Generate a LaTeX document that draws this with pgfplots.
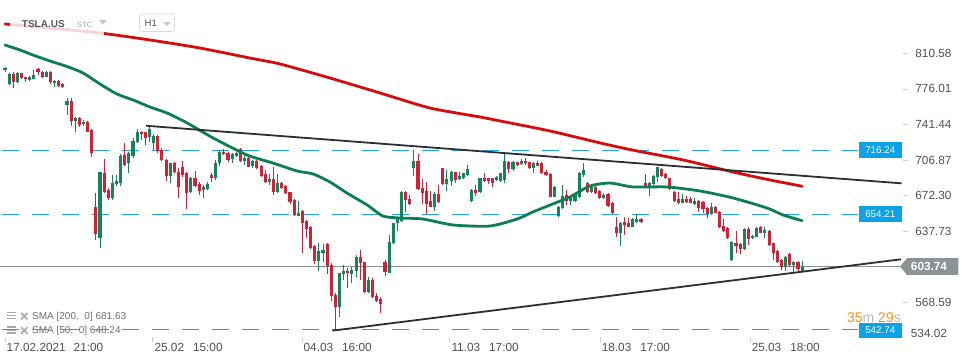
\documentclass[border=0pt]{standalone}
\usepackage{pgfplots}
\usepackage{pgfplotstable}
\pgfplotsset{compat=1.18}
\usepackage{fontspec}
\setmainfont{Liberation Sans}
\definecolor{cup}{RGB}{22,132,88}
\definecolor{cdn}{RGB}{212,32,52}
\definecolor{smared}{RGB}{214,12,12}
\definecolor{smagreen}{RGB}{12,126,82}
\definecolor{trend}{RGB}{42,47,53}
\definecolor{hblue}{RGB}{38,163,228}
\definecolor{boxblue}{RGB}{12,162,232}
\definecolor{pricegray}{RGB}{139,147,151}
\definecolor{txt}{RGB}{80,80,80}
\definecolor{orng}{RGB}{247,148,29}
\definecolor{lgray}{RGB}{168,168,168}

\pgfplotstableread{
i o h l c
1 794.4 797.6 792.8 796.6
2 780.5 791.1 779.5 790.5
4 783.1 792.1 782.1 791.1
7 784.7 788.6 784.0 787.3
8 785.7 794.4 785.3 789.5
11 787.9 793.4 787.3 792.8
13 781.4 784.7 778.2 783.7
16 760.7 767.5 750.7 764.0
18 745.2 749.1 734.5 747.5
20 741.7 745.9 740.4 744.3
24 631.1 695.7 621.4 695.1
27 670.5 692.5 668.3 685.1
28 683.8 692.5 682.2 686.4
29 684.4 712.6 682.2 710.9
31 703.8 715.1 694.1 713.5
32 710.9 728.1 709.3 725.5
33 724.8 737.1 723.2 734.5
36 729.1 739.4 724.8 736.8
37 723.9 732.3 716.8 730.3
41 691.9 704.5 684.4 703.8
46 676.3 690.9 674.7 689.3
49 678.0 682.8 670.5 680.5
50 678.6 686.0 678.0 683.8
52 689.3 707.1 687.7 704.5
53 703.8 716.8 701.5 715.1
56 707.7 713.5 704.5 712.9
57 711.3 715.1 710.3 714.2
59 706.4 713.5 702.2 708.7
61 701.2 707.1 699.0 706.1
65 686.0 693.5 682.8 688.6
67 676.3 693.5 675.4 684.4
72 653.0 667.3 652.7 655.3
77 609.4 626.2 599.7 618.8
78 617.2 625.6 608.4 619.7
82 564.8 597.8 555.1 597.1
83 596.1 605.2 590.6 599.4
85 596.4 603.6 587.4 600.3
86 599.7 614.9 593.9 612.6
89 579.3 593.9 578.3 590.6
94 597.8 634.3 597.1 627.8
95 626.9 646.3 625.6 645.6
96 645.6 652.1 638.5 649.5
97 647.9 677.0 647.2 676.3
100 699.6 716.8 691.5 706.1
105 661.8 676.3 657.9 674.1
108 683.8 697.4 677.3 688.3
109 687.0 696.7 681.8 695.7
111 688.3 695.7 687.7 691.5
112 689.9 694.8 688.9 694.1
113 692.5 702.2 691.9 698.0
114 667.6 678.6 666.6 677.9
116 676.3 689.9 675.4 689.3
120 687.7 691.9 687.0 690.9
121 687.0 694.8 686.0 694.1
122 687.7 712.6 684.4 706.1
124 698.0 706.1 696.7 705.4
126 702.9 707.7 702.2 706.1
129 699.0 705.4 694.8 703.8
134 671.5 681.8 670.8 681.2
135 652.7 662.4 651.4 661.1
136 660.2 682.8 659.2 672.1
138 667.6 673.1 663.4 669.9
139 667.6 674.7 666.6 673.1
140 671.5 695.7 669.9 694.8
141 692.5 703.8 690.9 697.4
143 676.3 682.8 674.7 681.2
146 669.9 674.7 668.9 673.1
150 636.6 647.2 623.6 646.3
153 642.4 650.5 641.7 649.5
154 647.2 654.7 646.3 649.5
157 681.8 686.0 672.5 684.4
158 683.8 692.5 682.8 691.5
159 690.2 700.6 686.0 699.9
165 665.7 673.7 665.0 668.9
168 664.4 669.9 663.4 667.3
172 654.3 665.0 653.7 661.1
177 610.0 628.8 609.4 627.8
180 620.4 640.8 619.7 639.8
182 631.1 634.3 630.1 633.6
183 632.7 642.4 632.0 640.8
185 636.6 641.7 631.1 639.2
190 603.6 613.9 599.7 613.3
192 605.2 609.1 597.7 608.4
194 599.7 609.1 598.7 603.7
}\upt

\pgfplotstableread{
i o h l c
3 790.5 792.8 776.6 783.1
5 791.1 791.8 785.3 786.3
6 787.3 787.9 782.7 785.3
9 795.4 796.0 789.2 792.8
10 792.8 793.7 786.3 787.9
12 792.8 793.4 780.8 782.4
14 783.7 784.7 778.2 779.2
15 780.8 782.1 776.9 777.6
17 764.0 766.9 740.4 745.2
19 747.5 748.5 739.4 741.0
21 744.3 745.2 733.9 734.5
22 736.2 736.8 710.3 714.2
23 661.8 674.7 629.4 634.9
25 694.1 708.0 675.4 676.3
26 677.9 679.6 668.3 670.5
30 711.9 723.2 701.2 702.2
34 734.2 734.9 726.5 732.3
35 733.9 734.5 721.6 728.1
38 730.3 731.3 714.2 715.8
39 716.8 718.4 706.4 707.1
40 707.1 708.4 687.0 691.9
42 703.8 704.8 694.1 695.1
43 695.1 699.0 670.5 681.2
44 699.9 706.1 690.9 692.5
45 694.1 695.7 659.5 675.4
47 689.3 696.4 681.2 681.8
48 683.8 686.0 673.1 677.3
51 692.5 694.1 686.0 689.3
54 715.1 717.4 711.6 712.6
55 714.2 715.1 705.4 707.1
58 717.4 718.4 705.4 706.4
60 708.7 710.3 699.9 700.6
62 706.1 707.1 698.3 699.6
63 701.2 702.2 690.2 691.5
64 693.5 697.4 685.1 686.0
66 688.6 700.6 673.1 676.3
68 684.4 686.0 678.6 680.2
69 681.8 682.8 674.1 674.7
70 675.7 676.3 664.4 666.6
71 668.3 668.9 653.0 653.7
73 657.6 658.6 617.2 646.3
74 647.9 648.8 631.0 640.1
75 642.4 643.0 620.4 622.0
76 623.6 624.6 606.2 609.4
79 625.6 626.2 596.4 604.5
80 605.2 606.8 570.3 575.1
81 576.1 577.7 542.7 564.8
84 599.7 602.0 582.5 597.1
87 613.3 619.7 590.6 606.8
88 607.8 608.4 578.3 579.3
90 590.6 592.2 572.8 573.8
91 575.1 578.3 569.6 570.6
92 572.2 574.5 558.3 567.0
93 607.8 610.0 594.5 598.7
98 675.7 677.0 656.9 668.3
99 669.2 673.1 663.4 664.4
101 706.1 712.9 677.9 678.6
102 679.6 688.3 664.4 675.4
103 677.0 686.0 654.7 664.4
104 667.3 677.3 661.1 661.8
106 674.1 682.8 665.7 666.6
107 699.0 699.6 682.8 683.4
110 695.1 695.7 685.1 687.7
115 677.9 682.8 672.1 675.4
117 689.3 694.1 685.4 687.0
118 689.3 689.9 683.4 687.0
119 689.3 689.9 681.2 684.4
123 705.4 706.1 694.8 698.0
125 704.8 705.4 701.6 702.2
127 706.1 708.7 702.2 703.8
128 704.8 705.4 698.0 699.0
130 704.5 706.1 701.2 701.6
131 704.5 705.4 693.5 694.1
132 695.1 697.4 691.5 692.2
133 693.2 694.1 670.8 671.5
137 673.1 677.9 663.4 667.6
142 684.4 686.0 675.4 676.3
144 680.5 681.8 674.1 674.7
145 677.0 677.9 669.2 669.9
147 673.7 674.7 661.8 662.4
148 665.7 666.6 654.7 655.3
149 641.7 652.1 632.0 636.6
151 646.6 652.1 634.3 644.0
152 646.3 650.5 641.7 642.4
155 649.5 650.5 646.3 647.2
156 684.4 693.5 680.5 681.8
160 698.0 699.0 690.9 691.9
161 693.5 694.8 688.3 689.3
162 689.3 689.9 678.0 678.6
163 676.3 677.3 666.6 667.6
164 668.9 676.3 664.4 665.0
166 668.9 672.5 665.0 666.0
167 668.9 671.5 665.0 665.7
169 667.3 668.3 656.9 660.2
170 666.6 667.6 656.0 659.2
171 660.2 661.1 650.5 654.3
173 661.1 662.4 655.3 656.0
174 656.9 657.9 640.8 642.4
175 643.3 649.5 637.5 638.5
176 640.8 641.7 630.1 631.1
178 626.9 638.2 616.5 624.0
179 625.6 626.9 615.9 620.4
181 640.1 641.7 624.6 630.1
184 641.7 643.0 635.9 636.6
186 638.5 639.2 623.6 624.6
187 626.2 626.9 610.0 617.2
188 618.8 619.7 607.4 608.4
189 610.0 610.7 600.3 603.6
191 615.5 616.5 603.6 605.2
193 608.4 609.1 599.7 601.0
}\dnt

\begin{document}
\begin{tikzpicture}
\useasboundingbox (0,-26.5pt) rectangle (970pt,337.5pt);
% indicator legend (bottom left)
\begin{scope}[x=1pt,y=1pt]
\foreach \yy in {25,22,19} {\fill[lgray] (7,\yy-0.75) rectangle (16,\yy+0.75);}
\draw[lgray, line width=1.5pt] (21,24.5) -- (27.5,18) (21,18) -- (27.5,24.5);
\node[anchor=west, inner sep=0pt, text={rgb,255:red,110;green,110;blue,110}, font=\fontsize{10}{11}\selectfont] at (32,20.8) {SMA [200,\ \ 0] 681.63};
\foreach \yy in {10.7,7.7,4.7} {\fill[lgray] (7,\yy-0.75) rectangle (16,\yy+0.75);}
\draw[lgray, line width=1.5pt] (21,10.2) -- (27.5,3.7) (21,3.7) -- (27.5,10.2);
\node[anchor=west, inner sep=0pt, text={rgb,255:red,110;green,110;blue,110}, font=\fontsize{10}{11}\selectfont] at (32,6.3) {SMA [50,\ \ 0] 648.24};
\end{scope}
\begin{axis}[
  at={(0pt,0pt)}, anchor=south west,
  scale only axis, width=903pt, height=337.5pt,
  xmin=-0.211, xmax=218.43, ymin=534.85, ymax=862.29,
  clip=false,
  axis x line*=bottom, axis y line*=right,
  axis line style={draw=none},
  tick align=outside, major tick length=4.5pt,
  tick style={draw=black!18, line width=0.8pt},
  xtick={1,36.8,72.9,108.7,145.1,181.4},
  xticklabels={17.02.2021\hspace{8pt}21:00,25.02\hspace{9pt}15:00,04.03\hspace{9pt}16:00,11.03\hspace{9pt}17:00,18.03\hspace{9pt}17:00,25.03\hspace{9pt}18:00},
  xticklabel style={anchor=west, inner sep=0pt, xshift=1.5pt, yshift=-5pt, font=\fontsize{11.8}{12}\selectfont, text=txt},
  ytick={810.58,776.01,741.44,706.87,672.30,637.73,568.59},
  yticklabels={810.58,776.01,741.44,706.87,672.30,637.73,568.59},
  yticklabel style={anchor=west, inner sep=0pt, xshift=7.7pt, font=\fontsize{11.8}{12}\selectfont, text=txt},
  /pgf/number format/assume math mode=true,
]
% current price line
\addplot[draw={rgb,255:red,140;green,140;blue,140}, line width=0.9pt, forget plot] coordinates {(-0.211,603.74) (217.9,603.74)};
% horizontal levels
\addplot[hblue, line width=1.4pt, dash pattern=on 16.5pt off 13.5pt, forget plot] coordinates {(0.3,716.24) (207.5,716.24)};
\addplot[hblue, line width=1.4pt, dash pattern=on 16.5pt off 13.5pt, forget plot] coordinates {(0.3,654.21) (207.5,654.21)};
\addplot[hblue, line width=1.4pt, dash pattern=on 16.5pt off 13.5pt, forget plot] coordinates {(0.3,542.74) (207.5,542.74)};
% candles: wicks
\addplot[draw=none, mark=none, forget plot, error bars/.cd, y dir=both, y explicit, error mark=none, error bar style={draw=cup, line width=0.9pt}]
  table[x=i, y expr={(\thisrow{h}+\thisrow{l})/2}, y error expr={(\thisrow{h}-\thisrow{l})/2}] {\upt};
\addplot[draw=none, mark=none, forget plot, error bars/.cd, y dir=both, y explicit, error mark=none, error bar style={draw=cdn, line width=0.9pt}]
  table[x=i, y expr={(\thisrow{h}+\thisrow{l})/2}, y error expr={(\thisrow{h}-\thisrow{l})/2}] {\dnt};
% candles: bodies
\addplot[draw=none, mark=none, forget plot, error bars/.cd, y dir=both, y explicit, error mark=none, error bar style={draw=cup, line width=3.1pt}]
  table[x=i, y expr={(\thisrow{o}+\thisrow{c})/2}, y error expr={max(abs(\thisrow{c}-\thisrow{o})/2,0.45)}] {\upt};
\addplot[draw=none, mark=none, forget plot, error bars/.cd, y dir=both, y explicit, error mark=none, error bar style={draw=cdn, line width=3.1pt}]
  table[x=i, y expr={(\thisrow{o}+\thisrow{c})/2}, y error expr={max(abs(\thisrow{c}-\thisrow{o})/2,0.45)}] {\dnt};
% SMA 200
\addplot[smared, line width=2.8pt, smooth, tension=0.4, line cap=round, forget plot] coordinates {
(1,839.0) (11.9,835.1) (24.0,830.3) (36.1,823.5) (48.2,815.7) (60.3,806.0) (67.6,800.2) (79.7,786.6) (91.8,772.1) (103.9,757.5) (116.0,748.8) (120.9,744.9) (133.0,735.2) (145.1,723.6) (152.8,716.8) (165.2,707.1) (177.3,695.4) (186.2,687.7) (194,681.6)};
% SMA 50
\addplot[smagreen, line width=2.8pt, smooth, tension=0.4, line cap=round, forget plot] coordinates {
(1,818.6) (4.63,813.8) (7.78,808.9) (11.9,803.1) (16.0,797.8) (19.9,791.5) (24.0,780.8) (28.1,771.1) (32.0,765.3) (36.1,758.5) (40.2,752.7) (45.1,743.0) (51.4,728.4) (59.6,711.9) (65.9,704.1) (71.7,696.4) (75.6,693.5) (79.7,685.7) (83.8,675.0) (88.7,663.4) (92.5,652.7) (96.6,650.8) (102.2,649.8) (109.5,644.0) (118.4,643.0) (125.0,649.8) (128.8,656.6) (133.0,663.4) (137.8,671.2) (142.6,681.8) (147.5,684.7) (153.1,680.9) (161.3,680.9) (169.3,677.0) (177.3,670.2) (185.5,660.5) (189.4,653.7) (194,648.2)};
% trend lines
\addplot[trend, line width=1.8pt, forget plot] coordinates {(35.1,740.3) (218.1,684.4)};
\addplot[trend, line width=1.8pt, forget plot] coordinates {(80.3,541.5) (217.9,610.7)};
\end{axis}
\begin{scope}[x=1pt,y=1pt]
% level boxes
\node[fill=boxblue, text=white, minimum width=43.5pt, minimum height=16pt, inner sep=0pt, font=\fontsize{9.8}{10}\selectfont] at (880.25,187.0) {716.24};
\node[fill=boxblue, text=white, minimum width=43.5pt, minimum height=16pt, inner sep=0pt, font=\fontsize{9.8}{10}\selectfont] at (880.25,123.0) {654.21};
\node[fill=boxblue, text=white, minimum width=43.5pt, minimum height=15pt, inner sep=0pt, font=\fontsize{9.8}{10}\selectfont] at (880.25,7.0) {542.74};
% current price box
\fill[pricegray] (900,71.0) -- (907,79.3) -- (958.3,79.3) -- (958.3,62.6) -- (907,62.6) -- cycle;
\node[text=white, inner sep=0pt, font=\bfseries\fontsize{11.8}{12}\selectfont] at (929,71.0) {603.74};
% lowest axis value, shifted up like the reference
\node[anchor=west, inner sep=0pt, text=txt, font=\fontsize{11.8}{12}\selectfont] at (910.7,4.2) {534.02};
% countdown
\node[anchor=east, inner sep=0pt, font=\fontsize{14}{14}\selectfont] at (901,19.5) {\textcolor{orng}{35}\textcolor{black!28}{m} \textcolor{orng}{29}\textcolor{black!28}{s}};
% header
\fill[white, opacity=0.82] (10,300.5) rectangle (104,324.5);
\node[anchor=west, inner sep=0pt, text={rgb,255:red,85;green,91;blue,97}, font=\bfseries\fontsize{10}{10}\selectfont] at (21.7,313.5) {TSLA.US};
\node[anchor=west, inner sep=0pt, text={rgb,255:red,160;green,166;blue,170}, font=\fontsize{7.5}{8}\selectfont] at (77,312.5) {STC};
\fill[black!22] (99,317.5) -- (107,317.5) -- (103,313) -- cycle;
\draw[black!14, line width=0.8pt, rounded corners=2.5pt] (139.5,306) rectangle (174.5,323.5);
\node[anchor=west, inner sep=0pt, text=txt, font=\fontsize{9.5}{10}\selectfont] at (144.5,314.5) {H1};
\fill[black!22] (163.3,315.3) -- (170.7,315.3) -- (167,311.5) -- cycle;
\end{scope}
\end{tikzpicture}
\end{document}
